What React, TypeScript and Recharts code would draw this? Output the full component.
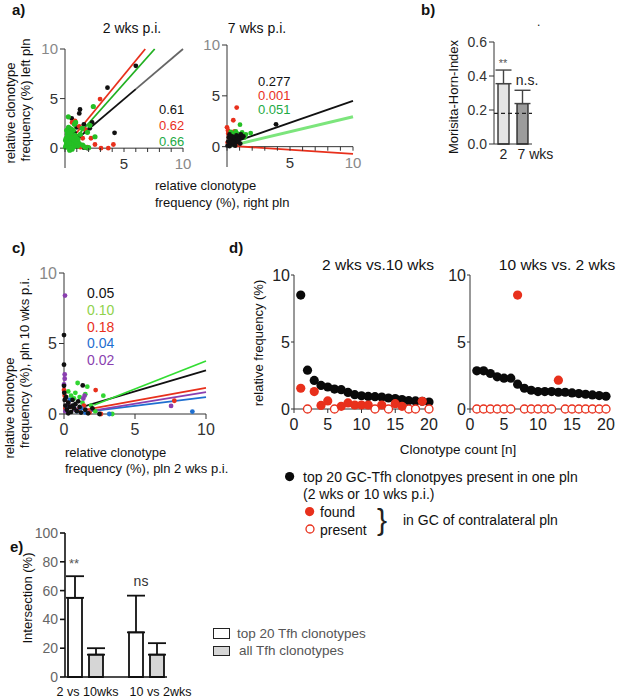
import React from 'react';
import {
  ScatterChart,
  Scatter,
  BarChart,
  Bar,
  ErrorBar,
  Cell,
  XAxis,
  YAxis,
  ReferenceLine,
} from 'recharts';

const FONT = '"Liberation Sans", Arial, Helvetica, sans-serif';

const RED = '#e8301c';
const GREEN = '#25bf25';
const LIGHT_GREEN = '#7ce57c';
const BLUE = '#1f6fd0';
const PURPLE = '#8a3fb0';

// ---- panel a: 2 wks p.i. (left vs right pln) ----
const A2_BLACK = [
  [6.0, 8.3], [3.6, 6.1], [4.2, 1.55], [1.27, 3.9], [1.21, 3.5], [0.57, 3.0], [2.1, 2.0],
  [1.6, 2.4], [1.0, 2.1], [0.8, 1.6], [0.3, 1.4], [0.5, 0.9], [1.1, 0.6], [1.6, 0.05],
  [1.9, 0.0], [1.4, 0.3], [0.2, 0.2], [0.7, 0.3], [0.4, 2.0], [1.8, 1.7], [2.3, 2.6],
  [1.2, 1.2], [0.9, 1.0],
];
const A2_RED = [
  [2.97, 4.95], [0.85, 2.76], [2.54, 0.37], [3.05, 0.0], [3.67, 0.0], [4.1, 0.37], [1.9, 0.1],
  [1.2, 2.2], [0.6, 2.6], [1.5, 1.0], [1.0, 0.3], [0.3, 0.5], [2.2, 1.0], [1.3, 0.1],
  [0.7, 1.2], [1.7, 1.9],
];
const A2_GREEN = [
  [0.05, 0.1], [0.1, 0.3], [0.15, 0.6], [0.2, 0.2], [0.25, 0.9], [0.3, 0.4], [0.35, 1.2],
  [0.4, 0.05], [0.45, 0.7], [0.5, 1.5], [0.55, 0.3], [0.6, 1.0], [0.65, 0.5], [0.7, 1.8],
  [0.75, 0.15], [0.8, 0.8], [0.85, 1.3], [0.9, 0.4], [0.95, 1.1], [1.0, 0.6], [1.05, 0.2],
  [1.1, 0.9], [1.2, 0.45], [1.3, 1.4], [0.1, 1.0], [0.2, 1.4], [0.15, 1.8], [0.3, 2.1],
  [0.05, 0.8], [0.4, -0.2], [0.6, -0.1], [0.25, 1.6], [0.5, 0.05], [0.35, 0.5], [0.55, 1.9],
  [0.8, 2.4], [1.5, 0.3], [1.7, 0.1], [2.54, 1.15], [2.4, 4.2], [2.1, 2.3], [1.45, 2.0],
  [0.28, 3.16], [0.9, 2.6], [1.9, 1.6], [2.0, 0.05],
];
// regression segments [x1, y1, x2, y2]
const A2_FIT_BLACK = [0.57, 0.47, 6.0, 5.95];
const A2_FIT_GRAY = [6.0, 5.95, 10, 10];
const A2_FIT_RED = [0.6, 1.0, 6.8, 10];
const A2_FIT_GREEN = [0.8, 0.9, 7.6, 10];
const A2_R = ['0.61', '0.62', '0.66'];

// ---- panel a: 7 wks p.i. ----
const A7_BLACK = [
  [0.05, 0.1], [0.1, 0.5], [0.15, 0.9], [0.2, 1.2], [0.3, 0.3], [0.35, 0.7], [0.4, 1.0],
  [0.5, 0.2], [0.55, 0.6], [0.6, 0.9], [0.7, 0.4], [0.75, 1.1], [0.8, 0.7], [0.9, 0.5],
  [0.95, 1.0], [1.0, 0.8], [1.1, 1.2], [1.2, 0.9], [1.3, 1.0], [0.2, 0.05], [0.45, 0.45],
  [0.65, 0.1], [1.05, 0.3], [3.89, 2.2],
];
const A7_RED = [
  [0.77, 3.85], [0.5, 2.6], [0.0, 1.9], [0.08, 1.6], [0.1, 1.3], [0.3, 1.4], [0.15, 0.9],
  [0.6, 1.5], [0.4, 0.6], [0.9, 0.3], [0.05, 0.4], [0.25, 1.1],
];
const A7_GREEN = [
  [1.03, 2.16], [1.88, 1.34], [0.7, 1.5], [1.2, 1.4], [0.5, 1.3], [1.5, 1.2], [0.9, 1.25],
  [0.3, 1.45], [1.4, 0.9],
];
const A7_FIT_BLACK = [0, 0.2, 10, 4.5];
const A7_FIT_GREEN = [0, 0.0, 10, 2.95];
const A7_FIT_RED = [0, 0.1, 10, -0.7];
const A7_R = ['0.277', '0.001', '0.051'];

// ---- panel b ----
const B_CATS = ['2', '7 wks'];
const B_MH = [0.355, 0.238];
const B_ERR = [0.08, 0.078];
const B_FILLS = ['#e4e4e4', '#9c9c9c'];
const B_RANDOM = 0.18;

// ---- panel c: 2 wks vs 10 wks ----
const C_BLACK = [
  [0, 5.6], [0, 3.5], [0, 2.0], [0.02, 1.5], [0.05, 1.0], [0.1, 0.6], [0.2, 0.3], [0.3, 0.8],
  [0.4, 0.5], [0.5, 0.15], [0.6, 1.0], [0.7, 0.4], [0.8, 0.7], [0.9, 0.2], [1.0, 0.9],
  [1.1, 0.5], [1.32, 2.03], [1.2, 0.1], [1.5, 0.3], [1.7, 0.05], [2.0, 0.4], [2.5, 0.0],
  [0.15, 1.2], [0.3, 0.05], [0.6, 0.6],
];
const C_GREEN = [
  [0.96, 2.2], [1.64, 1.94], [2.77, 1.3], [3.4, 0], [0.5, 1.3], [0.8, 1.5], [1.1, 1.2],
  [1.3, 0.8], [0.3, 1.6], [1.9, 0.6], [2.2, 0.2], [0.7, 1.1], [1.5, 1.4],
];
const C_RED = [
  [2.23, 1.7], [7.77, 0.94], [2.6, 0.0], [0.0, 1.7], [0.05, 1.3], [0.3, 0.9], [0.6, 0.5],
  [1.0, 0.3], [1.4, 0.6], [1.8, 0.1], [0.1, 0.4],
];
const C_BLUE = [
  [9.04, 0.17], [3.19, 0.0], [0.4, 1.0], [0.2, 0.5], [0.9, 0.2], [1.5, 0.1], [0.7, 0.6], [1.2, 0.4],
];
const C_PURPLE = [
  [0.07, 8.4], [0.05, 2.8], [0.05, 2.5], [0.0, 2.1], [7.54, 0.57], [1.36, 1.1], [1.45, 1.3],
  [0.3, 0.7], [0.8, 0.3], [0.1, 0.2],
];
const C_FIT_GREEN = [2.13, 0.64, 10, 3.76];
const C_FIT_BLACK = [1.36, 0.52, 10, 3.1];
const C_FIT_RED = [1.36, 0.28, 10, 1.85];
const C_FIT_PURPLE = [1.6, 0.17, 10, 1.55];
const C_FIT_BLUE = [1.13, 0.1, 10, 1.2];
const C_R = ['0.05', '0.10', '0.18', '0.04', '0.02'];
const C_R_COLORS = ['#111', '#8fd24c', RED, BLUE, PURPLE];

// ---- panel d ----
const D_N = [1, 2, 3, 4, 5, 6, 7, 8, 9, 10, 11, 12, 13, 14, 15, 16, 17, 18, 19, 20];
const D_LEFT_TOP = [8.5, 2.9, 2.13, 1.76, 1.64, 1.49, 1.44, 1.24, 1.07, 0.99, 0.94, 0.92, 0.89, 0.82, 0.78, 0.7, 0.62, 0.6, 0.58, 0.52];
const D_LEFT_FOUND_N = [1, 3, 4, 5, 7, 8, 9, 10, 11, 13, 15, 16, 19];
const D_LEFT_FOUND = [1.55, 1.3, 0.27, 0.6, 0.2, 0.45, 0.3, 0.3, 0.3, 0.3, 0.4, 0.2, 0.57];
const D_LEFT_PRESENT_N = [2, 6, 12, 14, 17, 18, 20];
const D_RIGHT_TOP = [2.85, 2.85, 2.65, 2.4, 2.3, 2.3, 1.85, 1.55, 1.4, 1.3, 1.3, 1.3, 1.25, 1.25, 1.2, 1.15, 1.1, 1.05, 1.0, 0.95];
const D_RIGHT_FOUND_N = [7, 13];
const D_RIGHT_FOUND = [8.5, 2.15];
const D_RIGHT_PRESENT_N = [1, 2, 3, 4, 5, 6, 8, 9, 10, 11, 12, 14, 15, 16, 17, 18, 19, 20];

// ---- panel e ----
const E_CATS = ['2 vs 10wks', '10 vs 2wks'];
const E_TOP20 = [55, 31];
const E_TOP20_ERR = [15, 25.5];
const E_ALL = [15.5, 15.5];
const E_ALL_ERR = [4.5, 8];

const pts = (a: number[][]) => a.map(([x, y]) => ({ x, y }));
const seg = (s: number[]) => [{ x: s[0], y: s[1] }, { x: s[2], y: s[3] }];
const zeros = (n: number[]) => n.map((x) => ({ x, y: 0 }));
const pair = (n: number[], v: number[]) => n.map((x, i) => ({ x, y: v[i] }));

const dot = (r: number, fill: string, stroke = 'none') => (p: any) => (
  <circle cx={p.cx} cy={p.cy} r={r} fill={fill} stroke={stroke} strokeWidth={1.3} />
);

const yTick = (size: number, dim: number[] = [10]) => (p: any) => (
  <text x={p.x} y={p.y} dy={size * 0.35} textAnchor="end" fontSize={size} fontFamily={FONT}
    fill={dim.includes(p.payload.value) ? '#888' : '#333'}>
    {p.payload.value}
  </text>
);

// x axis drawn at y = 0 inside panel a
const zeroAxisTick = (y0: number, labelled: number[], size: number) => (p: any) => {
  const v = p.payload.value;
  return (
    <g>
      <line x1={p.x} x2={p.x} y1={y0} y2={y0 + 4} stroke="#333" />
      {labelled.includes(v) ? (
        <text x={p.x} y={y0 + 21} textAnchor="middle" fontSize={size} fontFamily={FONT}
          fill={v === 10 ? '#888' : '#333'}>
          {v}
        </text>
      ) : null}
    </g>
  );
};

const A_XTICKS = [0, 1, 2, 3, 4, 5, 6, 7, 8, 9, 10];

const T = ({ x, y, children, size = 13, color = '#111', anchor = 'start', rotate = false, bold = false }: any) => {
  const tx = anchor === 'start' ? '0' : anchor === 'middle' ? '-50%' : '-100%';
  return (
    <div style={{
      position: 'absolute', left: x, top: y, fontSize: size, color, fontWeight: bold ? 700 : 400,
      whiteSpace: 'nowrap', lineHeight: 1,
      transform: rotate ? 'translate(-50%,-50%) rotate(-90deg)' : `translate(${tx},-50%)`,
    }}>
      {children}
    </div>
  );
};

const Box = ({ x, y, children }: any) => (
  <div style={{ position: 'absolute', left: x, top: y }}>{children}</div>
);

const PanelA2 = () => (
  <ScatterChart width={200} height={150} margin={{ top: 9, right: 17, bottom: 0, left: 0 }}>
    <XAxis type="number" dataKey="x" domain={[0, 10]} ticks={A_XTICKS} interval={0} height={22}
      axisLine={false} tickLine={false} tick={zeroAxisTick(108, [5, 10], 15)} />
    <YAxis type="number" dataKey="y" domain={[-2, 10]} ticks={[0, 5, 10]} interval={0} width={65}
      axisLine={{ stroke: '#333' }} tickLine={{ stroke: '#333' }} tickSize={5} tickMargin={2}
      tick={yTick(15)} />
    <ReferenceLine y={0} stroke="#333" />
    <Scatter data={pts(A2_BLACK)} shape={dot(2.4, '#111')} isAnimationActive={false} />
    <Scatter data={pts(A2_RED)} shape={dot(2.4, RED)} isAnimationActive={false} />
    <Scatter data={pts(A2_GREEN)} shape={dot(2.6, GREEN)} isAnimationActive={false} />
    <ReferenceLine segment={seg(A2_FIT_GRAY)} stroke="#666" strokeWidth={1.8} />
    <ReferenceLine segment={seg(A2_FIT_BLACK)} stroke="#111" strokeWidth={1.8} />
    <ReferenceLine segment={seg(A2_FIT_GREEN)} stroke="#22b022" strokeWidth={1.8} />
    <ReferenceLine segment={seg(A2_FIT_RED)} stroke={RED} strokeWidth={1.8} />
  </ScatterChart>
);

const PanelA7 = () => (
  <ScatterChart width={200} height={150} margin={{ top: 9, right: 17, bottom: 0, left: 0 }}>
    <XAxis type="number" dataKey="x" domain={[0, 10]} ticks={A_XTICKS} interval={0} height={19}
      axisLine={false} tickLine={false} tick={zeroAxisTick(110.7, [5, 10], 15)} />
    <YAxis type="number" dataKey="y" domain={[-2, 10]} ticks={[0, 5, 10]} interval={0} width={57}
      axisLine={{ stroke: '#333' }} tickLine={{ stroke: '#333' }} tickSize={5} tickMargin={2}
      tick={yTick(15)} />
    <ReferenceLine y={0} stroke="#333" />
    <Scatter data={pts(A7_RED)} shape={dot(2.4, RED)} isAnimationActive={false} />
    <Scatter data={pts(A7_GREEN)} shape={dot(2.4, GREEN)} isAnimationActive={false} />
    <Scatter data={pts(A7_BLACK)} shape={dot(2.4, '#111')} isAnimationActive={false} />
    <ReferenceLine segment={seg(A7_FIT_RED)} stroke={RED} strokeWidth={1.8} />
    <ReferenceLine segment={seg(A7_FIT_GREEN)} stroke={LIGHT_GREEN} strokeWidth={3} />
    <ReferenceLine segment={seg(A7_FIT_BLACK)} stroke="#111" strokeWidth={1.8} />
  </ScatterChart>
);

const bData = B_CATS.map((name, i) => ({ name, v: B_MH[i], err: [0, B_ERR[i]] }));

const bTick = (p: any) => {
  const v = p.payload.value;
  const wide = v !== '2';
  return (
    <text x={wide ? p.x - 5 : p.x} y={129} textAnchor={wide ? 'start' : 'middle'} fontSize={14}
      fontFamily={FONT} fill="#222">
      {v}
    </text>
  );
};

const PanelB = () => (
  <BarChart width={150} height={140} data={bData} margin={{ top: 12, right: 48, bottom: 0, left: 0 }} barSize={11}>
    <XAxis dataKey="name" height={26} interval={0} axisLine={{ stroke: '#333' }} tickLine={false} tick={bTick} />
    <YAxis type="number" domain={[0, 0.6]} ticks={[0, 0.2, 0.4, 0.6]} interval={0} width={64}
      axisLine={{ stroke: '#333' }} tickLine={{ stroke: '#333' }} tickSize={5} tickMargin={2}
      tickFormatter={(v: number) => v.toFixed(1)} tick={{ fontSize: 14, fill: '#333', fontFamily: FONT }} />
    <Bar dataKey="v" stroke="#222" strokeWidth={1.3} isAnimationActive={false}>
      {bData.map((d, i) => (
        <Cell key={d.name} fill={B_FILLS[i]} />
      ))}
      <ErrorBar dataKey="err" width={8} stroke="#444" strokeWidth={1.4} direction="y" />
    </Bar>
    <ReferenceLine y={B_RANDOM} stroke="#222" strokeDasharray="4 3" strokeWidth={1.2} ifOverflow="extendDomain" />
  </BarChart>
);

const PanelC = () => (
  <ScatterChart width={220} height={175} margin={{ top: 8, right: 14, bottom: 0, left: 0 }}>
    <XAxis type="number" dataKey="x" domain={[0, 10]} ticks={[0, 5, 10]} interval={0} height={26}
      axisLine={{ stroke: '#333' }} tickLine={{ stroke: '#333' }} tickSize={5} tickMargin={5}
      tick={{ fontSize: 16, fill: '#333', fontFamily: FONT }} />
    <YAxis type="number" dataKey="y" domain={[0, 10]} ticks={[0, 5, 10]} interval={0} width={64}
      axisLine={{ stroke: '#333' }} tickLine={{ stroke: '#333' }} tickSize={5} tickMargin={2}
      tick={yTick(16)} />
    <Scatter data={pts(C_GREEN)} shape={dot(2.4, '#33d633')} isAnimationActive={false} />
    <Scatter data={pts(C_RED)} shape={dot(2.4, RED)} isAnimationActive={false} />
    <Scatter data={pts(C_BLUE)} shape={dot(2.4, BLUE)} isAnimationActive={false} />
    <Scatter data={pts(C_PURPLE)} shape={dot(2.4, PURPLE)} isAnimationActive={false} />
    <Scatter data={pts(C_BLACK)} shape={dot(2.4, '#111')} isAnimationActive={false} />
    <ReferenceLine segment={seg(C_FIT_BLUE)} stroke={BLUE} strokeWidth={1.8} />
    <ReferenceLine segment={seg(C_FIT_PURPLE)} stroke={PURPLE} strokeWidth={1.8} />
    <ReferenceLine segment={seg(C_FIT_RED)} stroke={RED} strokeWidth={1.8} />
    <ReferenceLine segment={seg(C_FIT_BLACK)} stroke="#111" strokeWidth={1.8} />
    <ReferenceLine segment={seg(C_FIT_GREEN)} stroke="#33dd33" strokeWidth={1.8} />
  </ScatterChart>
);

const PanelD = ({ top, foundN, found, presentN, yWidth, width }: any) => (
  <ScatterChart width={width} height={175} margin={{ top: 10, right: 11, bottom: 0, left: 0 }}>
    <XAxis type="number" dataKey="x" domain={[0, 20]} ticks={[0, 5, 10, 15, 20]} interval={0} height={31}
      axisLine={{ stroke: '#333' }} tickLine={{ stroke: '#333' }} tickSize={4} tickMargin={6}
      tick={{ fontSize: 16, fill: '#222', fontFamily: FONT }} />
    <YAxis type="number" dataKey="y" domain={[0, 10]} ticks={[0, 5, 10]} interval={0} width={yWidth}
      axisLine={{ stroke: '#333' }} tickLine={{ stroke: '#333' }} tickSize={3} tickMargin={1}
      tick={{ fontSize: 16, fill: '#222', fontFamily: FONT }} />
    <Scatter data={pair(D_N, top)} shape={dot(4.6, '#0a0a0a')} isAnimationActive={false} />
    <Scatter data={zeros(presentN)} shape={dot(4, '#fff', RED)} isAnimationActive={false} />
    <Scatter data={pair(foundN, found)} shape={dot(4.6, RED)} isAnimationActive={false} />
  </ScatterChart>
);

const eData = E_CATS.map((name, i) => ({
  name, top20: E_TOP20[i], top20Err: [0, E_TOP20_ERR[i]], all: E_ALL[i], allErr: [0, E_ALL_ERR[i]],
}));

const eTick = (p: any) => (
  <text x={p.index === 0 ? p.x + 2 : p.x + 14} y={171} textAnchor="middle" fontSize={12.5}
    fontFamily={FONT} fill="#111">
    {p.payload.value}
  </text>
);

const PanelE = () => (
  <BarChart width={200} height={178} data={eData} margin={{ top: 8, right: 33, bottom: 0, left: 0 }}
    barSize={14} barGap={7}>
    <XAxis dataKey="name" height={26} interval={0} padding={{ left: -10, right: -10 }}
      axisLine={{ stroke: '#111', strokeWidth: 1.6 }} tickLine={false} tick={eTick} />
    <YAxis type="number" domain={[0, 100]} ticks={[0, 20, 40, 60, 80, 100]} interval={0} width={65}
      axisLine={{ stroke: '#111', strokeWidth: 1.6 }} tickLine={{ stroke: '#111', strokeWidth: 1.6 }}
      tickSize={5} tickMargin={2} tick={{ fontSize: 14, fill: '#666', fontFamily: FONT }} />
    <Bar dataKey="top20" fill="#fff" stroke="#111" strokeWidth={1.8} isAnimationActive={false}>
      <ErrorBar dataKey="top20Err" width={9} stroke="#111" strokeWidth={1.8} direction="y" />
    </Bar>
    <Bar dataKey="all" fill="#d6d6d6" stroke="#111" strokeWidth={1.8} isAnimationActive={false}>
      <ErrorBar dataKey="allErr" width={9} stroke="#111" strokeWidth={1.8} direction="y" />
    </Bar>
  </BarChart>
);

const Mark = ({ x, y, r, fill, stroke = 'none' }: any) => (
  <svg style={{ position: 'absolute', left: x - r - 2, top: y - r - 2 }} width={2 * r + 4} height={2 * r + 4}>
    <circle cx={r + 2} cy={r + 2} r={r} fill={fill} stroke={stroke} strokeWidth={1.3} />
  </svg>
);

const Swatch = ({ x, y, w, h, fill }: any) => (
  <div style={{ position: 'absolute', left: x, top: y, width: w, height: h, background: fill, border: '1.5px solid #222', boxSizing: 'border-box' }} />
);

export default function App() {
  return (
    <div style={{ position: 'absolute', left: 0, top: 0, width: 617, height: 698, background: '#fff', fontFamily: FONT, overflow: 'hidden' }}>
      <Box x={0} y={40}><PanelA2 /></Box>
      <Box x={170} y={36}><PanelA7 /></Box>
      <Box x={430} y={30}><PanelB /></Box>
      <Box x={0} y={265}><PanelC /></Box>
      <Box x={230} y={265}>
        <PanelD top={D_LEFT_TOP} foundN={D_LEFT_FOUND_N} found={D_LEFT_FOUND} presentN={D_LEFT_PRESENT_N} yWidth={64} width={210} />
      </Box>
      <Box x={430} y={265}>
        <PanelD top={D_RIGHT_TOP} foundN={D_RIGHT_FOUND_N} found={D_RIGHT_FOUND} presentN={D_RIGHT_PRESENT_N} yWidth={40} width={187} />
      </Box>
      <Box x={0} y={525}><PanelE /></Box>

      {/* panel a texts */}
      <T x={12} y={9} size={15} bold>a)</T>
      <T x={132} y={28} size={14} anchor="middle">2 wks p.i.</T>
      <T x={257} y={28} size={14} anchor="middle">7 wks p.i.</T>
      {A2_R.map((r, i) => (
        <T key={r} x={159} y={109 + i * 16} size={13} color={['#111', RED, '#22aa44'][i]}>{r}</T>
      ))}
      {A7_R.map((r, i) => (
        <T key={r} x={258} y={81 + i * 14} size={13} color={['#111', RED, '#22aa44'][i]}>{r}</T>
      ))}
      <T x={10} y={113} size={13} rotate>relative clonotype</T>
      <T x={25} y={100} size={13} rotate>frequency (%) left pln</T>
      <T x={155} y={185} size={13}>relative clonotype</T>
      <T x={155} y={202} size={13}>frequency (%), right pln</T>

      {/* panel b texts */}
      <T x={421} y={9} size={15} bold>b)</T>
      <T x={537} y={22} size={12}>.</T>
      <T x={453} y={97} size={13} rotate>Morisita-Horn-Index</T>
      <T x={503} y={63} size={11} color="#555" anchor="middle">**</T>
      <T x={527} y={80} size={14} anchor="middle" color="#222">n.s.</T>

      {/* panel c texts */}
      <T x={12} y={247} size={15} bold>c)</T>
      {C_R.map((r, i) => (
        <T key={r} x={87} y={293 + i * 16.8} size={14} color={C_R_COLORS[i]}>{r}</T>
      ))}
      <T x={9} y={408} size={13} rotate>relative clonotype</T>
      <T x={24} y={363} size={13} rotate>frequency (%), pln 10 wks p.i.</T>
      <T x={65} y={452} size={13}>relative clonotype</T>
      <T x={65} y={468} size={13}>frequency (%), pln 2 wks p.i.</T>

      {/* panel d texts */}
      <T x={229} y={247} size={15} bold>d)</T>
      <T x={378} y={265} size={15.5} anchor="middle">2 wks vs.10 wks</T>
      <T x={557} y={265} size={15.5} anchor="middle">10 wks vs. 2 wks</T>
      <T x={258} y={343} size={13} rotate>relative frequency (%)</T>
      <T x={458} y={450} size={13.5} anchor="middle">Clonotype count [n]</T>
      <Mark x={290} y={477} r={4.6} fill="#0a0a0a" />
      <T x={303} y={477} size={14}>top 20 GC-Tfh clonotpyes present in one pln</T>
      <T x={303} y={494} size={14}>(2 wks or 10 wks p.i.)</T>
      <Mark x={310} y={512} r={4.6} fill={RED} />
      <T x={320} y={512} size={14}>found</T>
      <Mark x={310} y={529} r={4} fill="#fff" stroke={RED} />
      <T x={320} y={530} size={14}>present</T>
      <T x={382} y={520} size={30} anchor="middle" color="#222">{'}'}</T>
      <T x={403} y={520} size={14}>in GC of contralateral pln</T>

      {/* panel e texts */}
      <T x={10} y={546} size={15} bold>e)</T>
      <T x={27} y={598} size={13} rotate>Intersection (%)</T>
      <T x={74} y={563} size={13} color="#555" anchor="middle">**</T>
      <T x={141} y={581} size={14} color="#333" anchor="middle">ns</T>
      <Swatch x={213} y={628} w={17} h={11} fill="#fff" />
      <T x={237} y={634} size={13.5} color="#555">top 20 Tfh clonotypes</T>
      <Swatch x={213} y={646} w={17} h={10} fill="#d6d6d6" />
      <T x={239} y={651} size={13.5} color="#555">all Tfh clonotypes</T>
    </div>
  );
}
